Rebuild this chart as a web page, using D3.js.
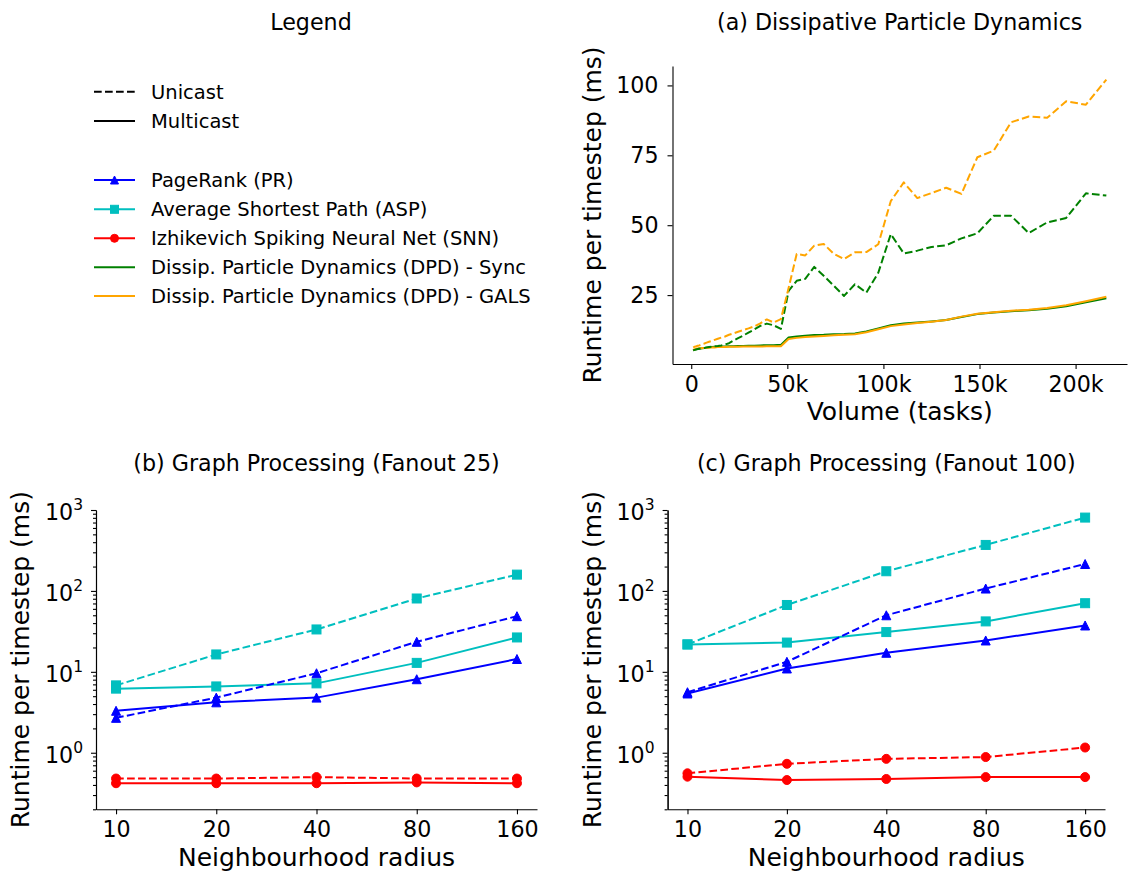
<!DOCTYPE html>
<html>
<head>
<meta charset="utf-8">
<script src="https://cdn.jsdelivr.net/npm/d3@7"></script>
<style>
  body { margin: 0; background: #fff; }
  svg text { font-family: "DejaVu Sans", sans-serif; fill: #000; }
</style>
</head>
<body>
<svg id="fig" width="1136" height="877"></svg>
<script>
// ---------------- data ----------------
// DPD: simulation volume (tasks) for cubic boxes of edge 10..60
const dpdVolume = [1000, 1331, 1728, 2197, 2744, 3375, 4096, 4913, 5832, 6859,
  8000, 9261, 10648, 12167, 13824, 15625, 17576, 19683, 21952, 24389,
  27000, 29791, 32768, 35937, 39304, 42875, 46656, 50653, 54872, 59319,
  64000, 68921, 74088, 79507, 85184, 91125, 97336, 103823, 110592, 117649,
  125000, 132651, 140608, 148877, 157464, 166375, 175616, 185193, 195112, 205379, 216000];

const dpdSyncUnicast = [5.2, 5.3, 5.4, 5.5, 5.6, 5.7, 5.8, 5.9, 6.0, 6.1,
  6.3, 6.4, 6.5, 6.7, 6.8, 7.0, 7.3, 7.8, 8.7, 9.6,
  10.5, 11.6, 12.7, 14.0, 14.8, 14.2, 12.9, 26.5, 30.1, 30.8,
  35.1, 31.9, 28.4, 24.7, 28.9, 25.9, 33.0, 46.8, 39.9, 40.9,
  42.2, 42.8, 45.3, 47.1, 53.4, 53.4, 47.2, 51.0, 52.6, 61.4, 60.6];

const dpdGalsUnicast = [6.3, 6.4, 6.5, 6.6, 6.7, 6.9, 7.0, 7.2, 7.5, 7.7,
  8.0, 8.3, 8.6, 9.0, 9.4, 9.8, 10.2, 10.8, 11.3, 11.9,
  12.5, 13.1, 13.8, 14.9, 16.3, 15.2, 16.4, 27.5, 39.7, 39.2,
  42.7, 43.3, 39.8, 37.9, 40.3, 40.4, 43.2, 58.6, 65.3, 59.7,
  61.5, 63.4, 61.2, 74.3, 76.7, 86.8, 88.9, 88.4, 94.3, 93.1, 102.1];

const dpdSyncMulticast = [5.2, 5.3, 5.4, 5.5, 5.6, 5.7, 5.8, 5.9, 6.0, 6.1,
  6.2, 6.3, 6.4, 6.5, 6.5, 6.6, 6.6, 6.7, 6.7, 6.8,
  6.8, 6.9, 6.9, 7.0, 7.1, 7.1, 7.2, 9.8, 10.2, 10.5,
  10.7, 10.8, 11.0, 11.1, 11.3, 12.0, 13.1, 14.2, 14.8, 15.2,
  15.6, 16.1, 17.2, 18.2, 18.8, 19.2, 19.6, 20.1, 21.0, 22.4, 23.9];

const dpdGalsMulticast = [5.4, 5.5, 5.6, 5.7, 5.8, 5.9, 6.0, 6.0, 6.1, 6.1,
  6.2, 6.2, 6.3, 6.3, 6.4, 6.4, 6.4, 6.5, 6.5, 6.5,
  6.6, 6.6, 6.6, 6.6, 6.7, 6.7, 6.7, 9.3, 9.7, 10.0,
  10.2, 10.4, 10.6, 10.8, 11.0, 11.7, 12.8, 13.9, 14.5, 15.0,
  15.5, 16.1, 17.3, 18.3, 18.9, 19.4, 19.8, 20.4, 21.4, 22.8, 24.4];

// Graph processing: neighbourhood radius
const radius = [10, 20, 40, 80, 160];

// Fanout 25
const prUnicast25    = [2.7, 4.8, 9.6, 23.5, 48.7];
const prMulticast25  = [3.3, 4.2, 4.8, 8.1, 14.4];
const aspUnicast25   = [6.8, 16.4, 33.4, 80.6, 159];
const aspMulticast25 = [6.2, 6.6, 7.2, 12.9, 26.6];
const snnUnicast25   = [0.48, 0.48, 0.50, 0.48, 0.48];
const snnMulticast25 = [0.42, 0.42, 0.42, 0.43, 0.42];

// Fanout 100
const prUnicast100    = [5.6, 13.3, 50, 107, 215];
const prMulticast100  = [5.4, 11.0, 17.2, 24.4, 37.4];
const aspUnicast100   = [21.8, 67, 175, 370, 806];
const aspMulticast100 = [21.8, 23, 31, 42, 70.5];
const snnUnicast100   = [0.557, 0.73, 0.84, 0.885, 1.16];
const snnMulticast100 = [0.506, 0.46, 0.474, 0.50, 0.50];

const dpdTicks = [0, 50000, 100000, 150000, 200000];
const dpdYTicks = [25, 50, 75, 100];
const logYTicks = [1, 10, 100, 1000];

// ---------------- style ----------------
const C = { pr: "#0000ff", asp: "#00bfbf", snn: "#ff0000", sync: "#008000", gals: "#ffa500" };
const DASH = "7.7,3.3";
const LW = 2;
const TICK_FS = 22.2, LABEL_FS = 25, TITLE_FS = 22.2, LEGEND_FS = 19.5;

const svg = d3.select("#fig");

function styleAxis(g) {
  g.attr("font-family", null).attr("font-size", null);
  g.select(".domain").attr("stroke", "#000").attr("stroke-width", 1.1);
  g.selectAll(".tick line").attr("stroke", "#000").attr("stroke-width", 1.1);
  g.selectAll(".tick text").attr("font-size", TICK_FS).attr("fill", "#000");
}

function marker(sel, shape, color, x, y, s) {
  if (shape === "tri") {
    const h = s;
    sel.append("path")
      .attr("d", `M${x},${y - h / 2}L${x + s / 2},${y + h / 2}L${x - s / 2},${y + h / 2}Z`)
      .attr("fill", color).attr("stroke", color).attr("stroke-width", 1);
  } else if (shape === "sq") {
    sel.append("rect").attr("x", x - s / 2).attr("y", y - s / 2)
      .attr("width", s).attr("height", s)
      .attr("fill", color).attr("stroke", color).attr("stroke-width", 1);
  } else if (shape === "circ") {
    sel.append("circle").attr("cx", x).attr("cy", y).attr("r", s / 2)
      .attr("fill", color).attr("stroke", color).attr("stroke-width", 1);
  }
}

function title(text, x, y) {
  svg.append("text").attr("x", x).attr("y", y).attr("text-anchor", "middle")
    .attr("font-size", TITLE_FS).text(text);
}

function yLabel(text, x, cy) {
  svg.append("text").attr("transform", `translate(${x},${cy}) rotate(-90)`)
    .attr("text-anchor", "middle").attr("font-size", LABEL_FS).text(text);
}

function xLabel(text, cx, y) {
  svg.append("text").attr("x", cx).attr("y", y).attr("text-anchor", "middle")
    .attr("font-size", LABEL_FS).text(text);
}

const pad = ([a, b], f) => [a - f * (b - a), b + f * (b - a)];

// ---------------- (a) DPD ----------------
(function () {
  const box = { left: 672.5, right: 1127, top: 66, bottom: 364 };
  const x = d3.scaleLinear().domain(pad(d3.extent(dpdVolume), 0.05)).range([box.left, box.right]);
  const all = dpdSyncUnicast.concat(dpdGalsUnicast, dpdSyncMulticast, dpdGalsMulticast);
  const y = d3.scaleLinear().domain(pad(d3.extent(all), 0.05)).range([box.bottom, box.top]);

  const g = svg.append("g");
  const line = d3.line().x((d, i) => x(dpdVolume[i])).y(d => y(d));

  const series = [
    { v: dpdSyncMulticast, c: C.sync, dash: null },
    { v: dpdGalsMulticast, c: C.gals, dash: null },
    { v: dpdSyncUnicast, c: C.sync, dash: DASH },
    { v: dpdGalsUnicast, c: C.gals, dash: DASH },
  ];
  series.forEach(s => {
    g.append("path").attr("d", line(s.v)).attr("fill", "none")
      .attr("stroke", s.c).attr("stroke-width", LW)
      .attr("stroke-linejoin", "round")
      .attr("stroke-dasharray", s.dash);
  });

  svg.append("g").attr("transform", `translate(0,${box.bottom})`)
    .call(d3.axisBottom(x).tickValues(dpdTicks)
      .tickFormat(d => d === 0 ? "0" : (d / 1000) + "k")
      .tickSize(5).tickSizeOuter(0).tickPadding(7))
    .call(styleAxis);
  svg.append("g").attr("transform", `translate(${box.left},0)`)
    .call(d3.axisLeft(y).tickValues(dpdYTicks).tickSize(5).tickSizeOuter(0).tickPadding(9))
    .call(styleAxis);

  title("(a) Dissipative Particle Dynamics", (box.left + box.right) / 2, 30);
  yLabel("Runtime per timestep (ms)", 601, (box.top + box.bottom) / 2);
  xLabel("Volume (tasks)", (box.left + box.right) / 2, 420);
})();

// ---------------- (b), (c) graph processing ----------------
function graphPanel(box, data, titleText) {
  const x = d3.scaleLog().base(2)
    .domain([radius[0] * Math.pow(2, -0.2), radius[radius.length - 1] * Math.pow(2, 0.2)])
    .range([box.left, box.right]);
  const y = d3.scaleLog().domain([0.2, 1000]).range([box.bottom, box.top]);

  const g = svg.append("g");
  const line = d3.line().x((d, i) => x(radius[i])).y(d => y(d));

  data.forEach(s => {
    g.append("path").attr("d", line(s.v)).attr("fill", "none")
      .attr("stroke", s.c).attr("stroke-width", LW)
      .attr("stroke-linejoin", "round")
      .attr("stroke-dasharray", s.dash ? DASH : null);
    s.v.forEach((d, i) => marker(g, s.m, s.c, x(radius[i]), y(d), 9));
  });

  // x axis
  svg.append("g").attr("transform", `translate(0,${box.bottom})`)
    .call(d3.axisBottom(x).tickValues(radius).tickFormat(d => String(d))
      .tickSize(5).tickSizeOuter(0).tickPadding(7))
    .call(styleAxis);

  // y axis: minor ticks
  const minor = [];
  for (let e = -1; e <= 2; e++) {
    for (let m = 2; m <= 9; m++) {
      const v = m * Math.pow(10, e);
      if (v >= 0.2 && v < 1000) minor.push(v);
    }
  }
  svg.append("g").attr("transform", `translate(${box.left},0)`)
    .call(d3.axisLeft(y).tickValues(minor).tickFormat("").tickSize(3).tickSizeOuter(0))
    .call(styleAxis);

  // y axis: major ticks with 10^k labels
  const ax = svg.append("g").attr("transform", `translate(${box.left},0)`)
    .call(d3.axisLeft(y).tickValues(logYTicks).tickFormat("").tickSize(5).tickSizeOuter(0).tickPadding(8))
    .call(styleAxis);
  ax.selectAll(".tick text").each(function (d) {
    const t = d3.select(this);
    t.text("").attr("dy", "0.42em").attr("font-size", TICK_FS);
    t.append("tspan").text("10");
    t.append("tspan").attr("font-size", 15.5).attr("dy", "-0.62em")
      .text(String(Math.round(Math.log10(d))));
  });

  title(titleText, (box.left + box.right) / 2, 471);
  xLabel("Neighbourhood radius", (box.left + box.right) / 2, 866);
  yLabel("Runtime per timestep (ms)", box.left - 67, (box.top + box.bottom) / 2);
}

graphPanel({ left: 96, right: 537, top: 510, bottom: 809.3 }, [
  { v: aspUnicast25, c: C.asp, m: "sq", dash: true },
  { v: aspMulticast25, c: C.asp, m: "sq", dash: false },
  { v: prUnicast25, c: C.pr, m: "tri", dash: true },
  { v: prMulticast25, c: C.pr, m: "tri", dash: false },
  { v: snnUnicast25, c: C.snn, m: "circ", dash: true },
  { v: snnMulticast25, c: C.snn, m: "circ", dash: false },
], "(b) Graph Processing (Fanout 25)");

graphPanel({ left: 667.6, right: 1105, top: 510, bottom: 809.3 }, [
  { v: aspUnicast100, c: C.asp, m: "sq", dash: true },
  { v: aspMulticast100, c: C.asp, m: "sq", dash: false },
  { v: prUnicast100, c: C.pr, m: "tri", dash: true },
  { v: prMulticast100, c: C.pr, m: "tri", dash: false },
  { v: snnUnicast100, c: C.snn, m: "circ", dash: true },
  { v: snnMulticast100, c: C.snn, m: "circ", dash: false },
], "(c) Graph Processing (Fanout 100)");

// ---------------- legend panel ----------------
(function () {
  title("Legend", 311, 30);
  const items = [
    { label: "Unicast", c: "#000", dash: true, m: null, y: 91.7 },
    { label: "Multicast", c: "#000", dash: false, m: null, y: 121 },
    { label: "PageRank (PR)", c: C.pr, dash: false, m: "tri", y: 180 },
    { label: "Average Shortest Path (ASP)", c: C.asp, dash: false, m: "sq", y: 209.3 },
    { label: "Izhikevich Spiking Neural Net (SNN)", c: C.snn, dash: false, m: "circ", y: 238.3 },
    { label: "Dissip. Particle Dynamics (DPD) - Sync", c: C.sync, dash: false, m: null, y: 267.3 },
    { label: "Dissip. Particle Dynamics (DPD) - GALS", c: C.gals, dash: false, m: null, y: 296 },
  ];
  const g = svg.append("g");
  items.forEach(it => {
    g.append("line").attr("x1", 94).attr("x2", 135).attr("y1", it.y).attr("y2", it.y)
      .attr("stroke", it.c).attr("stroke-width", LW)
      .attr("stroke-dasharray", it.dash ? DASH : null);
    if (it.m) marker(g, it.m, it.c, 114.5, it.y, 8);
    g.append("text").attr("x", 151).attr("y", it.y + 7).attr("font-size", LEGEND_FS).text(it.label);
  });
})();
</script>
</body>
</html>
